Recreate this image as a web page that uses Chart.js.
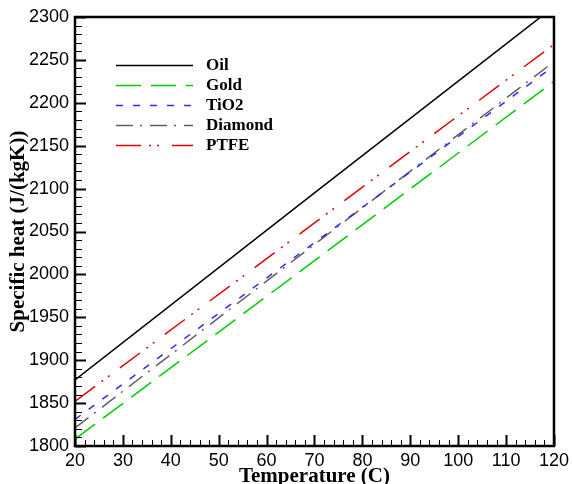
<!DOCTYPE html>
<html>
<head>
<meta charset="utf-8">
<script src="https://cdn.jsdelivr.net/npm/chart.js@4"></script>
<style>
  html, body { margin: 0; padding: 0; background: #fff; }
  #wrap { width: 573px; height: 484px; }
</style>
</head>
<body>
<div id="wrap"><canvas id="heatChart" width="573" height="484"></canvas></div>
<script>
// ---- data ----
const temps = [20, 70, 120];
const oil     = [1877, 2095, 2312];
const gold    = [1808, 2016, 2225];
const tio2    = [1831, 2037, 2243];
const diamond = [1821, 2035, 2248];
const ptfe    = [1852, 2060, 2268];

const seriesNames = ['Oil', 'Gold', 'TiO2', 'Diamond', 'PTFE'];
const xTicks = [20, 30, 40, 50, 60, 70, 80, 90, 100, 110, 120];
const yTicks = [1800, 1850, 1900, 1950, 2000, 2050, 2100, 2150, 2200, 2250, 2300];

const xTitle = 'Temperature (C)';
const yTitle = 'Specific heat (J/(kgK))';

function toPoints(vals) {
    return vals.map((v, i) => ({ x: temps[i], y: v }));
}

const styles = [
    { color: '#000000', dash: [] },
    { color: '#00cc00', dash: [25, 10] },
    { color: '#2b2bff', dash: [7, 10] },
    { color: '#606060', dash: [17, 7, 2, 8] },
    { color: '#e00000', dash: [25, 8, 2, 6, 2, 13] }
];

const allData = [oil, gold, tio2, diamond, ptfe];

// frame, inward ticks, legend and axis titles
const decorPlugin = {
    id: 'decor',
    afterDraw(chart) {
        const c = chart.ctx;
        const a = chart.chartArea;
        const xs = chart.scales.x;
        const ys = chart.scales.y;
        c.save();

        // frame
        c.strokeStyle = '#000';
        c.lineWidth = 2.5;
        c.strokeRect(a.left, a.top, a.right - a.left, a.bottom - a.top);

        // x ticks (minor every 2)
        for (let t = 20; t <= 120; t += 2) {
            const px = Math.round(xs.getPixelForValue(t)) + 0.5;
            const major = t % 10 === 0;
            c.lineWidth = major ? 2 : 1;
            c.beginPath();
            c.moveTo(px, a.bottom);
            c.lineTo(px, a.bottom - (major ? 11 : 6));
            c.stroke();
        }
        // y ticks (minor every 10)
        for (let v = 1800; v <= 2300; v += 10) {
            const py = Math.round(ys.getPixelForValue(v)) + 0.5;
            const major = v % 50 === 0;
            c.lineWidth = major ? 2 : 1;
            c.beginPath();
            c.moveTo(a.left, py);
            c.lineTo(a.left + (major ? 11 : 7), py);
            c.stroke();
        }

        // legend
        c.font = 'bold 17px "Liberation Serif", serif';
        c.textBaseline = 'middle';
        c.fillStyle = '#000';
        chart.data.datasets.forEach((ds, i) => {
            const y = 65 + i * 20;
            c.strokeStyle = ds.borderColor;
            c.lineWidth = 1.5;
            c.setLineDash(ds.borderDash || []);
            c.beginPath();
            c.moveTo(116, y + 0.5);
            c.lineTo(193, y + 0.5);
            c.stroke();
            c.setLineDash([]);
            c.fillText(ds.label, 206, y + 1);
        });

        // axis titles
        c.font = 'bold 21px "Liberation Serif", serif';
        c.textAlign = 'center';
        c.textBaseline = 'alphabetic';
        c.fillText(xTitle, (a.left + a.right) / 2, 482);
        c.translate(24, (a.top + a.bottom) / 2);
        c.rotate(-Math.PI / 2);
        c.fillText(yTitle, 0, 0);
        c.restore();
    }
};

const ctx = document.getElementById('heatChart').getContext('2d');
new Chart(ctx, {
    type: 'line',
    data: {
        datasets: allData.map((vals, i) => ({
            label: seriesNames[i],
            data: toPoints(vals),
            borderColor: styles[i].color,
            borderDash: styles[i].dash,
            borderWidth: 1.5,
            pointRadius: 0,
            fill: false,
            tension: 0
        }))
    },
    options: {
        responsive: false,
        animation: false,
        layout: { padding: { left: 0, right: 16, top: 17, bottom: 0 } },
        plugins: {
            legend: { display: false },
            tooltip: { enabled: false }
        },
        scales: {
            x: {
                type: 'linear',
                min: 20,
                max: 120,
                afterFit(scale) { scale.height = 38; },
                afterBuildTicks(scale) { scale.ticks = xTicks.map(v => ({ value: v })); },
                grid: { display: false, drawTicks: false },
                border: { display: false },
                ticks: {
                    padding: 4,
                    maxRotation: 0,
                    autoSkip: false,
                    color: '#000',
                    callback: v => String(v),
                    font: { family: '"Liberation Sans", Arial, sans-serif', size: 18 }
                }
            },
            y: {
                type: 'linear',
                min: 1800,
                max: 2300,
                afterFit(scale) { scale.width = 75; },
                afterBuildTicks(scale) { scale.ticks = yTicks.map(v => ({ value: v })); },
                grid: { display: false, drawTicks: false },
                border: { display: false },
                ticks: {
                    padding: 6,
                    autoSkip: false,
                    color: '#000',
                    callback: v => String(v),
                    font: { family: '"Liberation Sans", Arial, sans-serif', size: 18 }
                }
            }
        }
    },
    plugins: [decorPlugin]
});
</script>
</body>
</html>
